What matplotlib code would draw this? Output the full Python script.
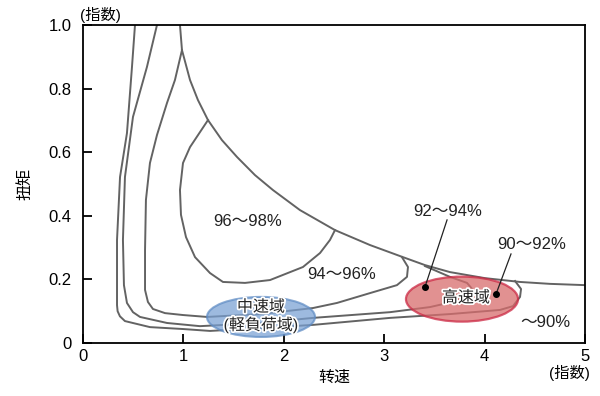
import matplotlib
matplotlib.use("Agg")
import matplotlib.pyplot as plt
import matplotlib.patheffects as pe
from matplotlib.patches import Ellipse

plt.rcParams['font.family'] = ['Liberation Sans', 'Noto Sans CJK JP', 'DejaVu Sans']

# 90% contour (outermost)
c90_x = [0.518, 0.488, 0.438, 0.369, 0.339, 0.339, 0.345, 0.368, 0.418, 0.667, 0.996,
         1.265, 1.773, 2.291, 3.058, 3.655, 4.153, 4.283, 4.353, 4.363, 4.303]
c90_y = [1.0, 0.868, 0.660, 0.522, 0.324, 0.119, 0.100, 0.084, 0.069, 0.050, 0.044,
         0.038, 0.047, 0.057, 0.079, 0.091, 0.104, 0.116, 0.145, 0.170, 0.195]

# 92% contour
c92_x = [0.737, 0.637, 0.498, 0.418, 0.398, 0.408, 0.438, 0.498, 0.568, 0.837, 1.165,
         1.773, 2.291, 3.058, 3.456, 3.635, 3.835, 3.884, 3.825, 3.655, 3.406]
c92_y = [1.0, 0.868, 0.711, 0.522, 0.324, 0.182, 0.126, 0.097, 0.082, 0.063, 0.053,
         0.063, 0.079, 0.097, 0.113, 0.126, 0.148, 0.167, 0.189, 0.208, 0.242]

# 94% contour
c94_x = [0.966, 0.986, 0.916, 0.837, 0.737, 0.667, 0.627, 0.618, 0.618, 0.647, 0.697,
         0.817, 0.996, 1.235, 1.773, 2.291, 2.530, 2.859, 3.127, 3.227, 3.237, 3.177]
c94_y = [1.0, 0.921, 0.827, 0.755, 0.654, 0.566, 0.450, 0.292, 0.167, 0.129, 0.107,
         0.094, 0.088, 0.082, 0.091, 0.110, 0.126, 0.157, 0.182, 0.208, 0.239, 0.270]

# 96% contour
c96_x = [1.245, 1.066, 0.996, 0.966, 0.976, 1.026, 1.116, 1.265, 1.394, 1.614, 1.863,
         2.191, 2.361, 2.460, 2.510]
c96_y = [0.701, 0.616, 0.566, 0.481, 0.403, 0.333, 0.270, 0.220, 0.192, 0.189, 0.198,
         0.239, 0.283, 0.324, 0.355]

# max torque / power limit
limit_x = [0.986, 1.066, 1.145, 1.245, 1.384, 1.534, 1.713, 1.892, 2.161, 2.510, 2.859,
           3.187, 3.406, 3.655, 4.004, 4.353, 4.651, 5.0]
limit_y = [0.921, 0.827, 0.764, 0.701, 0.638, 0.585, 0.528, 0.481, 0.418, 0.355, 0.308,
           0.270, 0.245, 0.223, 0.204, 0.192, 0.186, 0.182]

zone_labels = ["96～98%", "94～96%", "～90%"]
zone_x = [1.643, 2.580, 4.602]
zone_y = [0.381, 0.217, 0.066]

leader_labels = ["92～94%", "90～92%"]
leader_text_xy = [(3.635, 0.412), (4.472, 0.311)]
leader_start = [(3.626, 0.387), (4.263, 0.280)]
leader_dot = [(3.406, 0.176), (4.114, 0.154)]

fig = plt.figure(figsize=(6, 3.96), dpi=100)
ax = fig.add_axes([0.1383, 0.1338, 0.8367, 0.8031])

line_kw = dict(color='#636363', lw=1.4, zorder=2, solid_joinstyle='round')
for xs, ys in [(c90_x, c90_y), (c92_x, c92_y), (c94_x, c94_y), (c96_x, c96_y),
               (limit_x, limit_y)]:
    ax.plot(xs, ys, **line_kw)

for t, x, y in zip(zone_labels, zone_x, zone_y):
    ax.text(x, y, t, ha='center', va='center', fontsize=12, color='#222222')

for t, txy, s, d in zip(leader_labels, leader_text_xy, leader_start, leader_dot):
    ax.text(txy[0], txy[1], t, ha='center', va='center', fontsize=12, color='#222222')
    ax.plot([s[0], d[0]], [s[1], d[1]], color='#222222', lw=0.9, zorder=6)
    ax.plot(d[0], d[1], 'o', color='black', ms=4, zorder=6)

# 中速域 / 高速域
ax.add_patch(Ellipse((1.773, 0.082), 1.076, 0.126, facecolor='#78a0d3', alpha=0.72,
                     edgecolor='#5f8cc4', lw=1.5, zorder=4))
ax.add_patch(Ellipse((3.775, 0.138), 1.116, 0.1415, facecolor='#d86d6d', alpha=0.75,
                     edgecolor='#cc2a45', lw=1.6, zorder=4))
halo = [pe.withStroke(linewidth=2.5, foreground='white')]
ax.text(1.773, 0.113, "中速域", ha='center', va='center', fontsize=11.5,
        color='#222222', zorder=7, path_effects=halo)
ax.text(1.773, 0.057, "(軽負荷域)", ha='center', va='center', fontsize=11.5,
        color='#222222', zorder=7, path_effects=halo)
ax.text(3.815, 0.142, "高速域", ha='center', va='center', fontsize=11.5,
        color='#222222', zorder=7, path_effects=halo)

ax.set_xlim(0, 5)
ax.set_ylim(0, 1)
ax.set_xticks([0, 1, 2, 3, 4, 5])
ax.set_yticks([0, 0.2, 0.4, 0.6, 0.8, 1.0])
ax.set_yticklabels(['0', '0.2', '0.4', '0.6', '0.8', '1.0'])
ax.tick_params(direction='in', length=6.5, width=1.3, labelsize=12, colors='black')
ax.tick_params(axis='y', pad=8)
ax.tick_params(axis='x', pad=4)
for sp in ax.spines.values():
    sp.set_linewidth(1.3)

ax.set_xlabel("转速", fontsize=11.5)
ax.xaxis.set_label_coords(0.5, -0.085)
ax.set_ylabel("扭矩", fontsize=11.5)
ax.yaxis.set_label_coords(-0.10, 0.5)

fig.text(100 / 600, 1 - 15 / 396, "(指数)", ha='center', va='center', fontsize=11)
fig.text(569 / 600, 1 - 373 / 396, "(指数)", ha='center', va='center', fontsize=11)

fig.savefig("out.png", dpi=100)
